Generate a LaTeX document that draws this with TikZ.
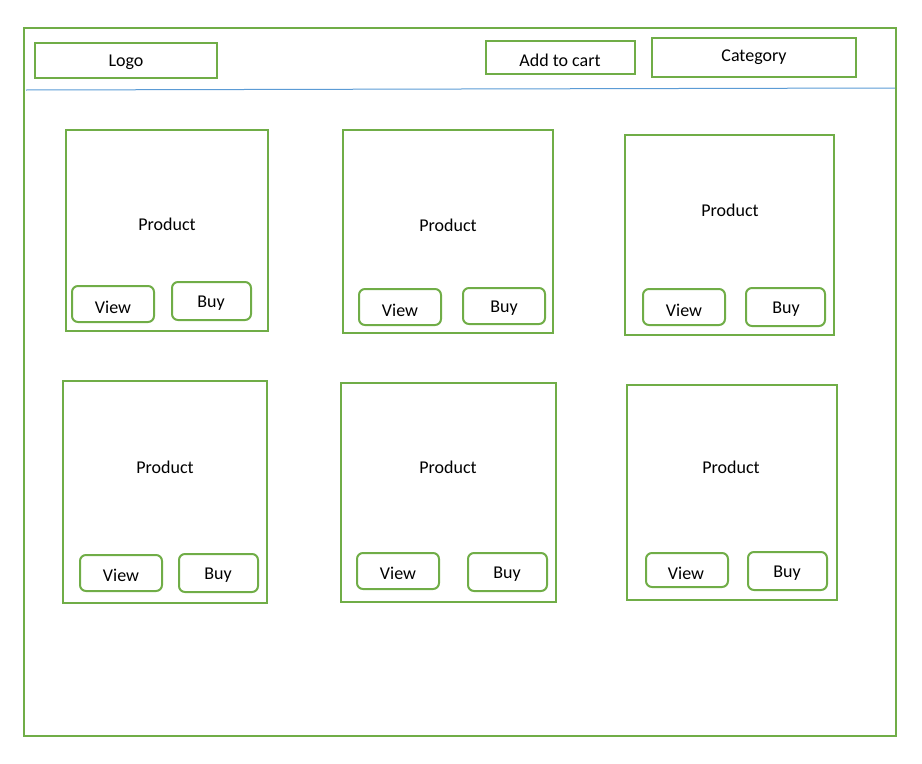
\documentclass[tikz,border=0pt]{standalone}
\usepackage{fontspec}
\setmainfont{Carlito}
\definecolor{grn}{HTML}{70AD47}
\definecolor{blu}{HTML}{5B9BD5}
\newcommand\rectnode[6]{\node[#6, minimum width={(#4-#2)*0.75pt}, minimum height={(#5-#3)*0.75pt}] (#1) at ({(#2+#4)/2},{(#3+#5)/2}) {};}
\tikzset{
  frame/.style={draw=grn, line width=1.5pt, inner sep=0pt},
  btn/.style={frame, rounded corners=4.5pt},
  lbl/.style={inner sep=0pt, font=\fontsize{13.5}{16}\selectfont}
}
\begin{document}
\begin{tikzpicture}[x=0.75pt,y=-0.75pt]
\useasboundingbox (0,0) rectangle (922,764);
\rectnode{outer}{24}{28}{896}{736}{frame}
\rectnode{logo}{35}{43}{217}{78}{frame}
\node[lbl] (logot) at (126,62) {Logo};
\rectnode{cart}{486}{41}{635}{74}{frame}
\node[lbl] (cartt) at (560,60) {Add to cart};
\rectnode{cat}{652}{38}{856}{77}{frame}
\node[lbl] (catt) at (754,57) {Category};
\coordinate (hl) at (26,90);
\coordinate (hr) at (895,88);
\draw[blu, line width=0.75pt] (hl) -- (hr);
% row 1
\rectnode{p1}{66}{130}{268}{331}{frame}
\node[lbl] (p1t) at (167,224) {Product};
\rectnode{p1v}{72}{286}{154}{322}{btn}
\node[lbl] (p1vt) at (113,307) {View};
\rectnode{p1b}{172}{282}{251}{320}{btn}
\node[lbl] (p1bt) at (211,303) {Buy};
\rectnode{p2}{343}{130}{553}{333}{frame}
\node[lbl] (p2t) at (448,225) {Product};
\rectnode{p2v}{359}{289}{441}{325}{btn}
\node[lbl] (p2vt) at (400,310) {View};
\rectnode{p2b}{463}{288}{545}{324}{btn}
\node[lbl] (p2bt) at (504,308) {Buy};
\rectnode{p3}{625}{135}{834}{335}{frame}
\node[lbl] (p3t) at (730,210) {Product};
\rectnode{p3v}{643}{289}{725}{325}{btn}
\node[lbl] (p3vt) at (684,310) {View};
\rectnode{p3b}{746}{288}{825}{326}{btn}
\node[lbl] (p3bt) at (786,309) {Buy};
% row 2
\rectnode{p4}{63}{381}{267}{603}{frame}
\node[lbl] (p4t) at (165,467) {Product};
\rectnode{p4v}{80}{555}{162}{591}{btn}
\node[lbl] (p4vt) at (121,575) {View};
\rectnode{p4b}{179}{554}{258}{592}{btn}
\node[lbl] (p4bt) at (218,575) {Buy};
\rectnode{p5}{341}{383}{556}{602}{frame}
\node[lbl] (p5t) at (448,467) {Product};
\rectnode{p5v}{357}{553}{439}{589}{btn}
\node[lbl] (p5vt) at (398,573) {View};
\rectnode{p5b}{468}{553}{547}{591}{btn}
\node[lbl] (p5bt) at (507,574) {Buy};
\rectnode{p6}{627}{385}{837}{600}{frame}
\node[lbl] (p6t) at (731,467) {Product};
\rectnode{p6v}{646}{553}{728}{587}{btn}
\node[lbl] (p6vt) at (686,573) {View};
\rectnode{p6b}{748}{552}{827}{590}{btn}
\node[lbl] (p6bt) at (787,573) {Buy};
\end{tikzpicture}
\end{document}
